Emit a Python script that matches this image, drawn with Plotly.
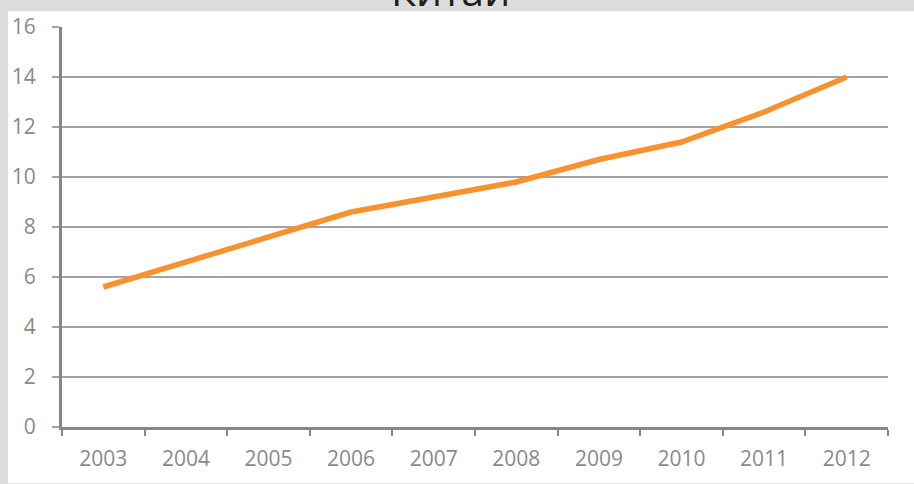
import plotly.graph_objects as go

# Annual values, 2003–2012
years = ["2003", "2004", "2005", "2006", "2007", "2008", "2009", "2010", "2011", "2012"]
values = [5.6, 6.6, 7.6, 8.6, 9.2, 9.8, 10.7, 11.4, 12.6, 14.0]
y_ticks = [0, 2, 4, 6, 8, 10, 12, 14, 16]

W, H = 914, 484
L, R, T, B = 61, 26, 24, 55
pw, ph = W - L - R, H - T - B


def px_x(x):
    return (x - L) / pw


def px_y(y):
    return (H - B - y) / ph


label_font = dict(family="Open Sans", size=21, color="#8a8a8a")

fig = go.Figure()
fig.add_trace(go.Scatter(
    x=years, y=values, mode="lines",
    line=dict(color="#F7922F", width=5.5),
    hoverinfo="skip", showlegend=False,
))

fig.update_layout(
    width=W, height=H,
    margin=dict(l=L, r=R, t=T, b=B, pad=0),
    paper_bgcolor="#dcdcdc",
    plot_bgcolor="rgba(0,0,0,0)",
    shapes=[dict(
        type="rect", xref="paper", yref="paper", layer="below",
        x0=px_x(7), x1=px_x(W + 2), y0=px_y(8), y1=px_y(H + 2),
        fillcolor="white", line=dict(width=0),
    )],
    annotations=[dict(
        text="Китай", xref="paper", yref="paper",
        x=px_x(450), y=px_y(17), xanchor="center", yanchor="bottom",
        showarrow=False, font=dict(family="Open Sans", size=41, color="#1f1f1f"),
    )],
    xaxis=dict(
        type="category", range=[-0.5, len(years) - 0.5],
        showline=True, linecolor="#878787", linewidth=3,
        ticks="outside", tickson="boundaries", ticklen=6, tickwidth=2, tickcolor="#878787",
        showgrid=False, tickfont=label_font, ticklabelstandoff=11,
        fixedrange=True,
    ),
    yaxis=dict(
        range=[0, 16], tickvals=y_ticks,
        showline=True, linecolor="#878787", linewidth=3,
        ticks="outside", ticklen=7, tickwidth=2, tickcolor="#a3a3a3",
        showgrid=True, gridcolor="#a3a3a3", gridwidth=2,
        zeroline=False, tickfont=label_font, ticklabelstandoff=12,
        fixedrange=True,
    ),
)

fig.write_html("out.html")
